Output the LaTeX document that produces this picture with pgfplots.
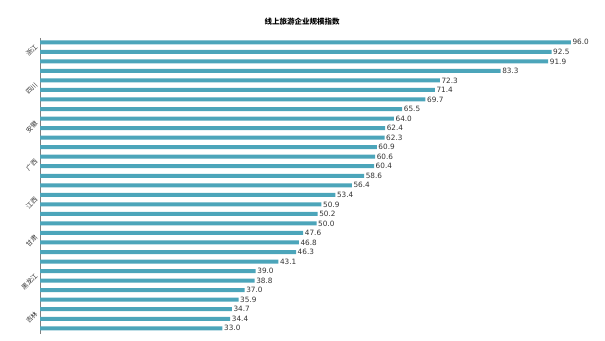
\documentclass[border=0pt]{standalone}
\usepackage{fontspec}
\setmainfont{DejaVu Sans}
\newfontfamily\cjk{Noto Sans CJK SC}
\usepackage{pgfplots}
\pgfplotsset{compat=1.18}
\definecolor{barc}{RGB}{76,165,186}
\definecolor{txt}{RGB}{51,51,51}
\begin{document}
\begin{tikzpicture}
\path[use as bounding box] (0,0) rectangle (605pt,340pt);
\node[font=\cjk\bfseries\fontsize{7.5}{9}\selectfont, text=black] at (302pt,318pt) {线上旅游企业规模指数};
\begin{axis}[
  at={(40pt,6pt)}, anchor=south west,
  scale only axis, width=553pt, height=296pt,
  xmin=0, xmax=100,
  ymin=-0.45, ymax=30.6, y dir=reverse,
  axis x line=none,
  axis y line*=left,
  y axis line style={draw=gray, line width=0.8pt, -},
  ytick={0,4,8,12,16,20,24,28},
  yticklabels={浙江,四川,安徽,广西,江西,甘肃,黑龙江,吉林},
  every y tick label/.style={font=\cjk\fontsize{6.5}{7}\selectfont, rotate=45, anchor=east, inner sep=0pt, xshift=-5pt, text=txt},
  major tick length=0pt,
  xbar, bar width=4pt,
  nodes near coords,
  /pgf/number format/assume math mode=true,
  nodes near coords style={font=\fontsize{7.3}{8}\selectfont, text=txt, anchor=west, inner sep=1.5pt,
    /pgf/number format/fixed, /pgf/number format/fixed zerofill, /pgf/number format/precision=1},
  clip=false,
]
\addplot[fill=barc, draw=none] coordinates {
(96.0,0) (92.5,1) (91.9,2) (83.3,3) (72.3,4) (71.4,5) (69.7,6) (65.5,7)
(64.0,8) (62.4,9) (62.3,10) (60.9,11) (60.6,12) (60.4,13) (58.6,14) (56.4,15)
(53.4,16) (50.9,17) (50.2,18) (50.0,19) (47.6,20) (46.8,21) (46.3,22) (43.1,23)
(39.0,24) (38.8,25) (37.0,26) (35.9,27) (34.7,28) (34.4,29) (33.0,30)
};
\end{axis}
\end{tikzpicture}
\end{document}
